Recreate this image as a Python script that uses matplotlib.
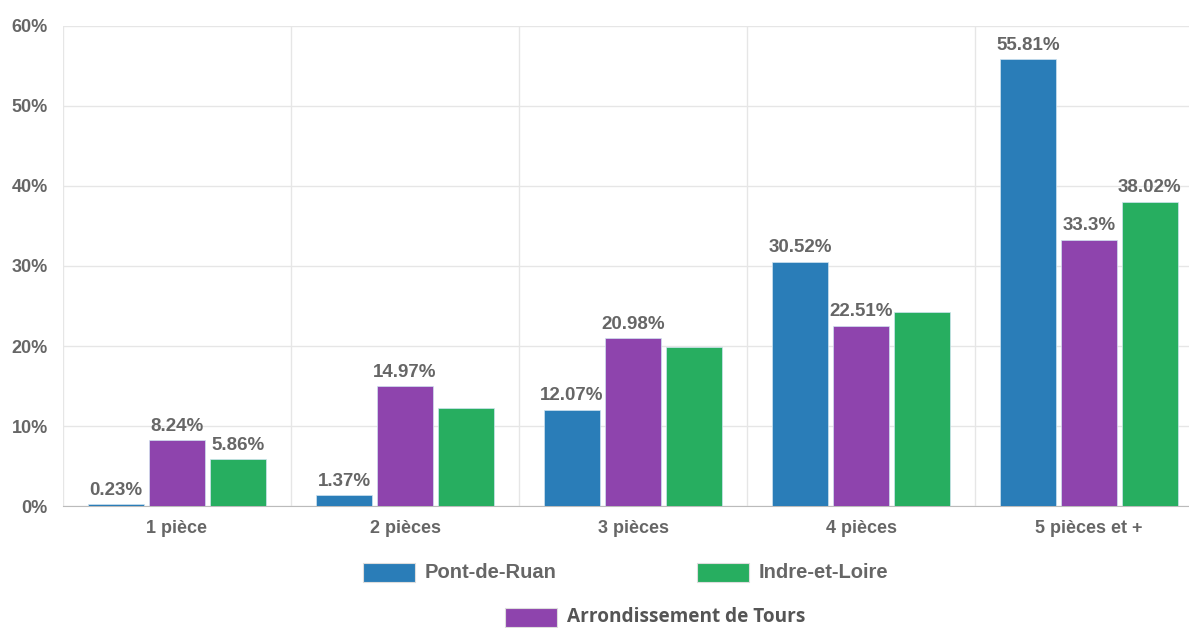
import matplotlib.pyplot as plt
from matplotlib.patches import Rectangle

categories = ['1 pièce', '2 pièces', '3 pièces', '4 pièces', '5 pièces et +']
pont_de_ruan = [0.23, 1.37, 12.07, 30.52, 55.81]
arr_tours = [8.24, 14.97, 20.98, 22.51, 33.3]
indre_et_loire = [5.86, 12.2, 19.9, 24.2, 38.02]
# labels shown in the chart (some green ones are hidden)
pont_labels = ['0.23%', '1.37%', '12.07%', '30.52%', '55.81%']
arr_labels = ['8.24%', '14.97%', '20.98%', '22.51%', '33.3%']
indre_labels = ['5.86%', '', '', '', '38.02%']

plt.rcParams['font.family'] = ['Liberation Sans', 'DejaVu Sans']
txt = '#666666'
c_blue, c_purple, c_green = '#2a7db8', '#8e44ad', '#27ae60'

fig = plt.figure(figsize=(11.89, 6.28), dpi=100)
# plot area runs a bit past the right edge, as in the cropped original
ax = fig.add_axes([63 / 1189, 0.194, 1140 / 1189, 0.765])

w = 0.245
step = 0.267
series = [(pont_de_ruan, pont_labels, c_blue, -step),
          (arr_tours, arr_labels, c_purple, 0),
          (indre_et_loire, indre_labels, c_green, step)]
for vals, labs, col, off in series:
    xs = [i + off for i in range(len(categories))]
    ax.bar(xs, vals, width=w, color=col, edgecolor='#cfe3f0', linewidth=0.5, zorder=3)
    for x, v, l in zip(xs, vals, labs):
        if l:
            ax.text(x, v + 0.7, l, ha='center', va='bottom', fontsize=13.5,
                    fontweight='bold', color=txt, zorder=4)

ax.set_xlim(-0.5, 4.5)
ax.set_ylim(0, 60)
ax.set_yticks(range(0, 61, 10))
ax.set_yticklabels([f'{t}%' for t in range(0, 61, 10)])
ax.set_xticks(range(len(categories)))
ax.set_xticklabels(categories)
for i in range(len(categories) + 1):
    ax.axvline(i - 0.5, color='#e6e6e6', linewidth=1, zorder=0)
ax.grid(axis='y', color='#e6e6e6', linewidth=1, zorder=0)
for s in ['top', 'right', 'left']:
    ax.spines[s].set_visible(False)
ax.spines['bottom'].set_color('#bbbbbb')
ax.tick_params(axis='both', length=0, labelsize=13, labelcolor=txt)
ax.tick_params(axis='y', pad=11)
ax.tick_params(axis='x', pad=10)
for lbl in ax.get_xticklabels() + ax.get_yticklabels():
    lbl.set_fontweight('bold')

# legend drawn by hand to match the layout
def legend_item(x, y, col, label, **kw):
    fig.patches.append(Rectangle((x / 1189, 1 - (y + 10) / 628), 52 / 1189, 19 / 628,
                                 transform=fig.transFigure, facecolor=col,
                                 edgecolor='#dddddd', linewidth=0.8))
    fig.text((x + 62) / 1189, 1 - y / 628, label, va='center', fontsize=kw.get('size', 14.5),
             fontweight='bold', color=kw.get('color', txt), family=kw.get('family', None))

legend_item(363, 572, c_blue, 'Pont-de-Ruan')
legend_item(697, 572, c_green, 'Indre-et-Loire')
legend_item(505, 617, c_purple, 'Arrondissement de Tours', color='#555555',
            family='Open Sans', size=13.7)

fig.savefig('out.png', dpi=100)
